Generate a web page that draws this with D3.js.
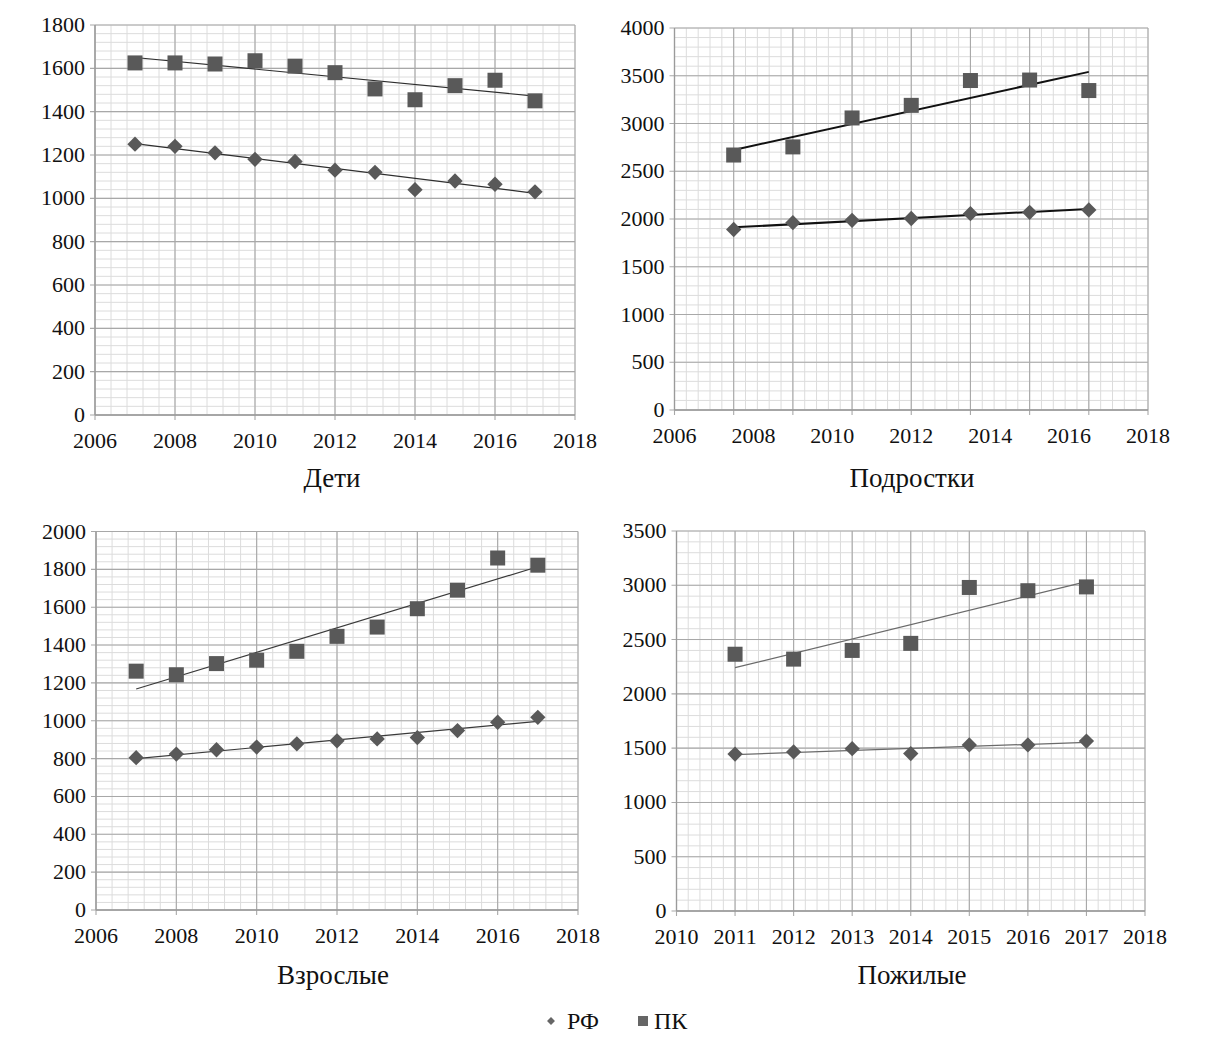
<!DOCTYPE html>
<html>
<head>
<meta charset="utf-8">
<script src="https://cdn.jsdelivr.net/npm/d3@7"></script>
<style>
    body { margin: 0; background: #fff; }
    text { font-family: "Times New Roman", "Liberation Serif", "DejaVu Serif", serif; }
</style>
</head>
<body>
<svg width="1205" height="1046"></svg>
<script>
// Дети
const detiYears = [2007, 2008, 2009, 2010, 2011, 2012, 2013, 2014, 2015, 2016, 2017];
const detiRF = [1250, 1240, 1210, 1180, 1170, 1130, 1120, 1040, 1080, 1065, 1030];
const detiPK = [1625, 1625, 1620, 1635, 1610, 1580, 1505, 1455, 1520, 1545, 1450];

// Подростки (точки стоят на сетке с шагом 1,5 года)
const podrYears = [2007.5, 2009, 2010.5, 2012, 2013.5, 2015, 2016.5];
const podrRF = [1890, 1962, 1986, 2005, 2056, 2070, 2095];
const podrPK = [2670, 2755, 3058, 3190, 3450, 3455, 3345];

// Взрослые
const vzrYears = [2007, 2008, 2009, 2010, 2011, 2012, 2013, 2014, 2015, 2016, 2017];
const vzrRF = [805, 824, 847, 861, 878, 894, 904, 911, 948, 992, 1018];
const vzrPK = [1262, 1243, 1302, 1320, 1367, 1446, 1495, 1592, 1690, 1860, 1822];

// Пожилые
const pozhYears = [2011, 2012, 2013, 2014, 2015, 2016, 2017];
const pozhRF = [1445, 1465, 1495, 1450, 1530, 1530, 1565];
const pozhPK = [2365, 2320, 2400, 2465, 2980, 2950, 2985];

const xTicks2 = [2006, 2008, 2010, 2012, 2014, 2016, 2018];
const xTicks1 = [2010, 2011, 2012, 2013, 2014, 2015, 2016, 2017, 2018];

const seriesNames = ["РФ", "ПК"];
const markerFill = "#595959";

const svg = d3.select("svg");

const panels = [
    {title: "Дети", years: detiYears, rf: detiRF, pk: detiPK,
     box: [95, 575, 25, 415], xDomain: [2006, 2018], xStep: 2, xLabels: xTicks2,
     yMax: 1800, yStep: 200, titlePos: [332, 487], line: "#2e2e2e", lw: 1.2},
    {title: "Подростки", years: podrYears, rf: podrRF, pk: podrPK,
     box: [674.5, 1148, 28, 410], xDomain: [2006, 2018], xStep: 1.5, xLabels: xTicks2,
     yMax: 4000, yStep: 500, titlePos: [912, 487], line: "#111", lw: 2},
    {title: "Взрослые", years: vzrYears, rf: vzrRF, pk: vzrPK,
     box: [96, 578, 531.5, 910], xDomain: [2006, 2018], xStep: 2, xLabels: xTicks2,
     yMax: 2000, yStep: 200, titlePos: [333, 984], line: "#3a3a3a", lw: 1.2},
    {title: "Пожилые", years: pozhYears, rf: pozhRF, pk: pozhPK,
     box: [676.5, 1145, 531, 911], xDomain: [2010, 2018], xStep: 1, xLabels: xTicks1,
     yMax: 3500, yStep: 500, titlePos: [912, 984], line: "#6a6a6a", lw: 1.2}
];

function trend(xs, ys) {
    const mx = d3.mean(xs), my = d3.mean(ys);
    const sxy = d3.sum(xs, (x, i) => (x - mx) * (ys[i] - my));
    const sxx = d3.sum(xs, x => (x - mx) * (x - mx));
    const b = sxy / sxx, a = my - b * mx;
    const x0 = d3.min(xs), x1 = d3.max(xs);
    return [[x0, a + b * x0], [x1, a + b * x1]];
}

function drawPanel(p) {
    const [l, r, t, b] = p.box;
    const x = d3.scaleLinear().domain(p.xDomain).range([l, r]);
    const y = d3.scaleLinear().domain([0, p.yMax]).range([b, t]);
    const g = svg.append("g");

    // minor grid
    const xMinor = d3.range(p.xDomain[0], p.xDomain[1] + 1e-6, p.xStep / 5);
    const yMinor = d3.range(0, p.yMax + 1e-6, p.yStep / 5);
    g.append("g").selectAll("line").data(xMinor).enter().append("line")
        .attr("x1", d => x(d)).attr("x2", d => x(d)).attr("y1", t).attr("y2", b)
        .attr("stroke", "#dcdcdc").attr("stroke-width", 1);
    g.append("g").selectAll("line").data(yMinor).enter().append("line")
        .attr("x1", l).attr("x2", r).attr("y1", d => y(d)).attr("y2", d => y(d))
        .attr("stroke", "#dcdcdc").attr("stroke-width", 1);

    // major grid
    const xMajor = d3.range(p.xDomain[0], p.xDomain[1] + 1e-6, p.xStep);
    const yMajor = d3.range(0, p.yMax + 1e-6, p.yStep);
    g.append("g").selectAll("line").data(xMajor).enter().append("line")
        .attr("x1", d => x(d)).attr("x2", d => x(d)).attr("y1", t).attr("y2", b + 5)
        .attr("stroke", "#a8a8a8").attr("stroke-width", 1.1);
    g.append("g").selectAll("line").data(yMajor).enter().append("line")
        .attr("x1", l - 5).attr("x2", r).attr("y1", d => y(d)).attr("y2", d => y(d))
        .attr("stroke", "#a8a8a8").attr("stroke-width", 1.1);

    // axis lines
    g.append("line").attr("x1", l).attr("x2", l).attr("y1", t).attr("y2", b)
        .attr("stroke", "#9a9a9a").attr("stroke-width", 1.3);
    g.append("line").attr("x1", l).attr("x2", r).attr("y1", b).attr("y2", b)
        .attr("stroke", "#9a9a9a").attr("stroke-width", 1.3);

    // tick labels
    g.append("g").selectAll("text").data(yMajor).enter().append("text")
        .attr("x", l - 10).attr("y", d => y(d) + 7)
        .attr("text-anchor", "end").attr("font-size", 22).attr("fill", "#111")
        .text(d => d);
    g.append("g").selectAll("text").data(p.xLabels).enter().append("text")
        .attr("x", d => x(d)).attr("y", b + 33)
        .attr("text-anchor", "middle").attr("font-size", 22).attr("fill", "#111")
        .text(d => d);

    // trend lines
    const line = d3.line().x(d => x(d[0])).y(d => y(d[1]));
    [p.rf, p.pk].forEach(vals => {
        g.append("path").datum(trend(p.years, vals))
            .attr("d", line).attr("fill", "none")
            .attr("stroke", p.line).attr("stroke-width", p.lw);
    });

    // markers
    const pts = (vals) => p.years.map((yr, i) => ({x: yr, v: vals[i]}));
    g.append("g").selectAll("path").data(pts(p.rf)).enter().append("path")
        .attr("d", d3.symbol().type(d3.symbolDiamond2).size(150)())
        .attr("transform", d => "translate(" + x(d.x) + "," + y(d.v) + ")")
        .attr("fill", markerFill);
    g.append("g").selectAll("rect").data(pts(p.pk)).enter().append("rect")
        .attr("x", d => x(d.x) - 7.5).attr("y", d => y(d.v) - 7.5)
        .attr("width", 15).attr("height", 15)
        .attr("fill", markerFill);

    svg.append("text").attr("x", p.titlePos[0]).attr("y", p.titlePos[1])
        .attr("text-anchor", "middle").attr("font-size", 27).attr("fill", "#111")
        .text(p.title);
}

panels.forEach(drawPanel);

// legend
const legend = svg.append("g");
legend.append("path")
    .attr("d", d3.symbol().type(d3.symbolDiamond2).size(40)())
    .attr("transform", "translate(551,1021)").attr("fill", "#666");
legend.append("text").attr("x", 567).attr("y", 1029).attr("font-size", 24)
    .attr("fill", "#111").text(seriesNames[0]);
legend.append("rect").attr("x", 638).attr("y", 1016).attr("width", 10).attr("height", 10).attr("fill", "#666");
legend.append("text").attr("x", 654).attr("y", 1029).attr("font-size", 24)
    .attr("fill", "#111").text(seriesNames[1]);
</script>
</body>
</html>
